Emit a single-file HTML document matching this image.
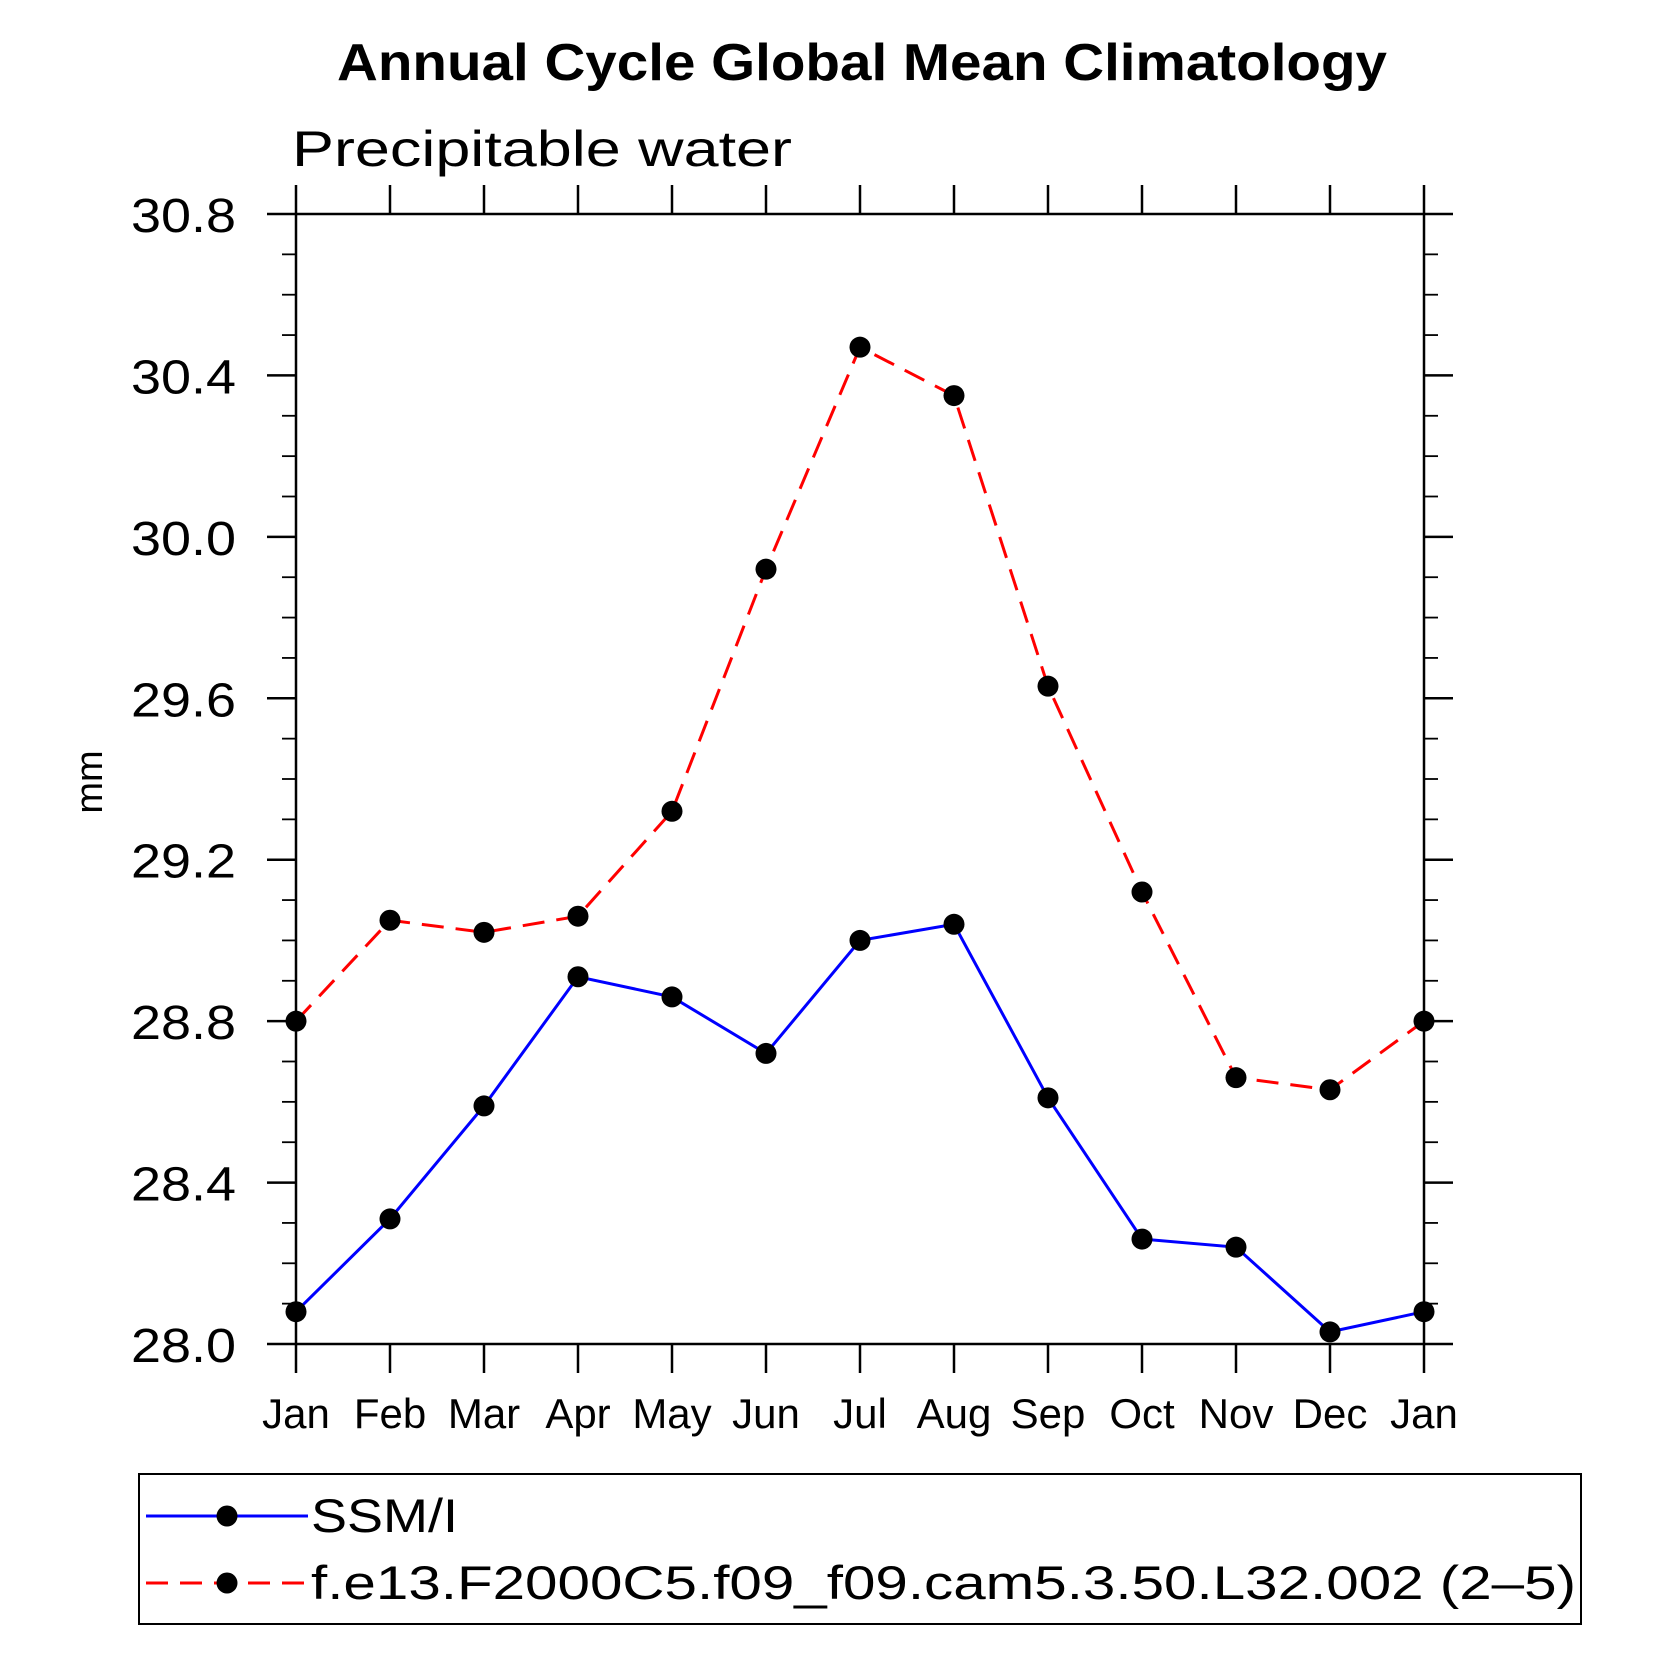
<!DOCTYPE html>
<html><head><meta charset="utf-8"><style>
html,body{margin:0;padding:0;background:#fff;}
svg{display:block;}
text{font-family:"Liberation Sans",sans-serif;}
</style></head><body>
<svg id="chart" width="1663" height="1663" viewBox="0 0 1663 1663" xmlns="http://www.w3.org/2000/svg">
<text x="862" y="80" text-anchor="middle" font-size="52" font-weight="bold" textLength="1050" lengthAdjust="spacingAndGlyphs">Annual Cycle Global Mean Climatology</text>
<text x="292" y="166" font-size="50" font-weight="300" textLength="500" lengthAdjust="spacingAndGlyphs">Precipitable water</text>
<text transform="translate(102,782) rotate(-90)" text-anchor="middle" font-size="38">mm</text>
<g id="axes"></g>
<g id="series"></g>
<rect x="139" y="1474" width="1442" height="150" fill="none" stroke="#000" stroke-width="2"/>
<g>
<line x1="146" y1="1516" x2="308" y2="1516" stroke="#0000ff" stroke-width="3"/>
<circle cx="227" cy="1516" r="10.5" fill="#000"/>
<text x="311" y="1532" font-size="47" textLength="147" lengthAdjust="spacingAndGlyphs">SSM/I</text>
</g>
<g>
<line x1="146" y1="1583" x2="308" y2="1583" stroke="#ff0000" stroke-width="3" stroke-dasharray="22,12"/>
<circle cx="227" cy="1583" r="10.5" fill="#000"/>
<text x="311" y="1599" font-size="47" textLength="1265" lengthAdjust="spacingAndGlyphs">f.e13.F2000C5.f09_f09.cam5.3.50.L32.002 (2–5)</text>
</g>
</svg>
<script>
const months = ["Jan","Feb","Mar","Apr","May","Jun","Jul","Aug","Sep","Oct","Nov","Dec","Jan"];
const ssmiValues = [28.08,28.31,28.59,28.91,28.86,28.72,29.00,29.04,28.61,28.26,28.24,28.03,28.08];
const modelValues = [28.80,29.05,29.02,29.06,29.32,29.92,30.47,30.35,29.63,29.12,28.66,28.63,28.80];
const yTickLabels = ["28.0","28.4","28.8","29.2","29.6","30.0","30.4","30.8"];
const yMin = 28.0, yMax = 30.8;

const NS = "http://www.w3.org/2000/svg";
const L = 296, R = 1424, T = 214, B = 1344;
function xs(i){ return L + (R - L) * i / (months.length - 1); }
function ys(v){ return B - (v - yMin) / (yMax - yMin) * (B - T); }
function mk(tag, attrs, parent){ const e = document.createElementNS(NS, tag); for (const k in attrs) e.setAttribute(k, attrs[k]); parent.appendChild(e); return e; }

const axes = document.getElementById("axes");
const frame = mk("rect", {x:L, y:T, width:R-L, height:B-T, fill:"none", stroke:"#000", "stroke-width":2.5}, axes);


months.forEach((m, i) => {
  const x = xs(i);
  mk("line", {x1:x, y1:B, x2:x, y2:B+29, stroke:"#000", "stroke-width":2.5}, axes);
  mk("line", {x1:x, y1:T, x2:x, y2:T-29, stroke:"#000", "stroke-width":2.5}, axes);
  const t = mk("text", {x:x, y:1428, "text-anchor":"middle", "font-size":42}, axes);
  t.textContent = m;
  
  
});
const nMinor = Math.round((yMax - yMin) / 0.1);
for (let k = 0; k <= nMinor; k++) {
  const v = yMin + k * 0.1, y = ys(v), major = k % 4 === 0;
  const len = major ? 29 : 14;
  mk("line", {x1:L-len, y1:y, x2:L, y2:y, stroke:"#000", "stroke-width":major?2.5:1.8}, axes);
  mk("line", {x1:R, y1:y, x2:R+len, y2:y, stroke:"#000", "stroke-width":major?2.5:1.8}, axes);
}
yTickLabels.forEach(s => {
  const y = ys(parseFloat(s));
  const t = mk("text", {x:236, y:y+18, "text-anchor":"end", "font-size":48, "font-weight":300, textLength:105, lengthAdjust:"spacingAndGlyphs"}, axes);
  t.textContent = s;
  
  
});

const series = document.getElementById("series");
function drawSeries(vals, color, dash, name){
  const pts = vals.map((v, i) => xs(i) + "," + ys(v)).join(" ");
  const pl = mk("polyline", {points:pts, fill:"none", stroke:color, "stroke-width":3}, series);
  if (dash) pl.setAttribute("stroke-dasharray", dash);
  
  
  vals.forEach((v, i) => {
    const c = mk("circle", {cx:xs(i), cy:ys(v), r:10.5, fill:"#000"}, series);
    
    
  });
}
drawSeries(modelValues, "#ff0000", "22,12", "model");
drawSeries(ssmiValues, "#0000ff", null, "ssmi");
</script>
</body></html>
